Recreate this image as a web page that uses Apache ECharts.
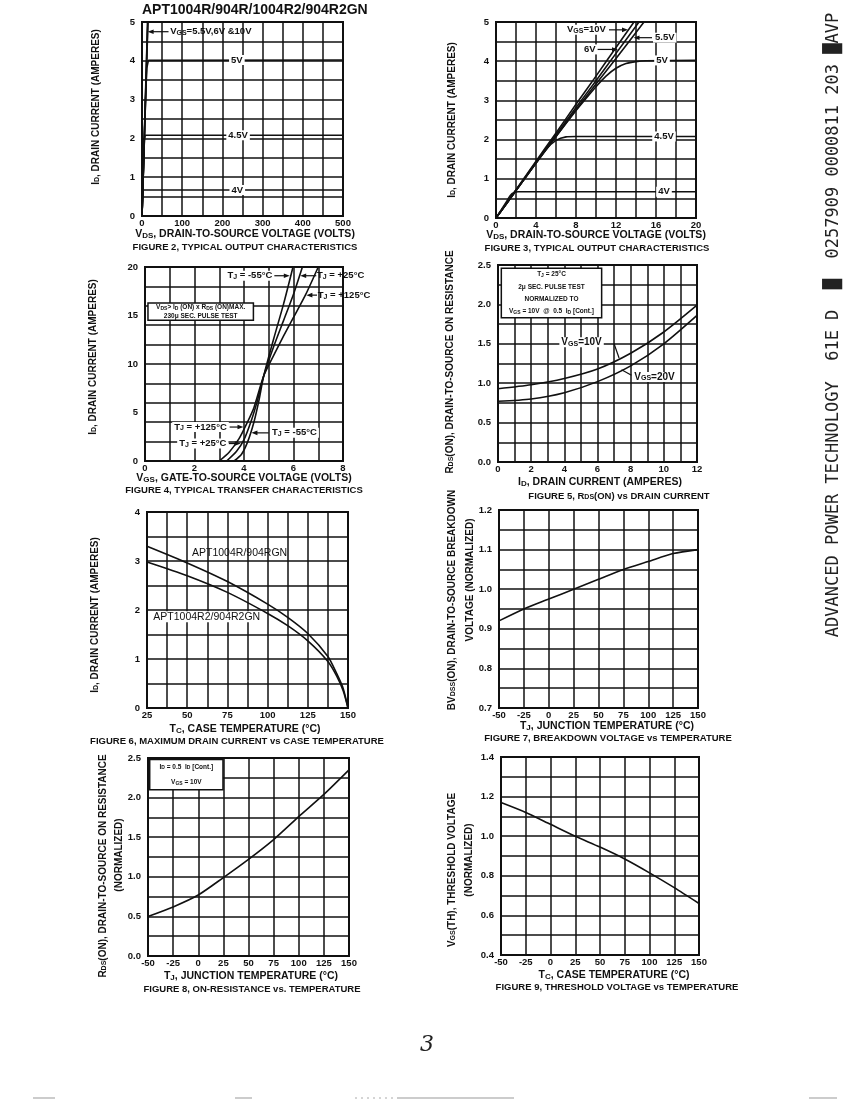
<!DOCTYPE html>
<html>
<head>
<meta charset="utf-8">
<script src="https://cdn.jsdelivr.net/npm/echarts@6/dist/echarts.min.js"></script>
<style>
html, body { margin: 0; padding: 0; background: #fff; }
#chart { width: 853px; height: 1108px; }
</style>
</head>
<body>
<div id="chart"></div>
<script>
// figure 2, output characteristics (0-500 V)
var f2Vgs10 = [[0, 0], [13.8, 5]];
var f2Vgs6 = [[0, 0], [14.3, 5]];
var f2Vgs55 = [[0, 0], [14.8, 5]];
var f2Vgs5 = [[0, 0], [9, 3.05], [12, 3.82], [16, 4.01], [500, 4.02]];
var f2Vgs45 = [[0, 0], [6, 1.98], [8, 2.08], [500, 2.08]];
var f2Vgs4 = [[0, 0], [2.2, 0.67], [500, 0.67]];

// figure 3, output characteristics (0-20 V)
var f3Vgs10 = [[0, 0], [2, 0.72], [4, 1.45], [6, 2.17], [8, 2.9], [10, 3.62], [12, 4.35], [13.8, 5]];
var f3Vgs6 = [[0, 0], [2, 0.71], [4, 1.42], [6, 2.12], [8, 2.82], [10, 3.5], [12, 4.2], [14.3, 5]];
var f3Vgs55 = [[0, 0], [2, 0.7], [4, 1.4], [6, 2.08], [8, 2.76], [10, 3.42], [12, 4.07], [14.8, 5]];
var f3Vgs5 = [[0, 0], [2, 0.7], [4, 1.4], [6, 2.08], [8, 2.74], [9, 3.05], [10, 3.35], [11, 3.62], [12, 3.82], [13, 3.94], [14, 3.99], [15, 4.01], [20, 4.02]];
var f3Vgs45 = [[0, 0], [2, 0.7], [4, 1.4], [5, 1.75], [6, 1.98], [7, 2.07], [8, 2.08], [20, 2.08]];
var f3Vgs4 = [[0, 0], [1, 0.4], [1.6, 0.62], [2.2, 0.67], [20, 0.67]];

// figure 4, transfer characteristics
var f4Tm55 = [[3.6, 0], [3.9, 0.7], [4.15, 2.0], [4.4, 4.0], [4.6, 6.2], [4.8, 8.8], [5.2, 12.6], [5.6, 16.2], [5.98, 20]];
var f4T25 = [[3.3, 0], [3.7, 1.0], [4.0, 2.2], [4.3, 4.2], [4.55, 6.3], [4.8, 8.8], [5.2, 11.8], [5.6, 14.5], [6.0, 17.2], [6.36, 20]];
var f4T125 = [[3.0, 0], [3.4, 0.9], [3.8, 2.3], [4.1, 3.8], [4.4, 5.5], [4.8, 8.8], [5.2, 10.9], [5.6, 12.9], [6.0, 14.8], [6.5, 17.2], [7.0, 20]];

// figure 5, RDS(on) vs drain current
var f5Vgs10 = [[0, 0.93], [2, 0.98], [4, 1.06], [6, 1.18], [8, 1.38], [10, 1.65], [12, 1.99]];
var f5Vgs20 = [[0, 0.77], [2, 0.8], [4, 0.88], [6, 1.02], [8, 1.22], [10, 1.5], [12, 1.86]];

// figure 6, max drain current vs case temperature
var f6Apt1004R = [[25, 3.3], [50, 2.96], [75, 2.58], [100, 2.12], [112.5, 1.85], [125, 1.52], [137.5, 1.05], [143, 0.7], [147, 0.4], [150, 0]];
var f6Apt1004R2 = [[25, 2.98], [50, 2.7], [75, 2.36], [100, 1.93], [112.5, 1.68], [125, 1.37], [137.5, 0.95], [143, 0.65], [147, 0.35], [150, 0]];

// figure 7, 8, 9 vs temperature
var f7Bvdss = [[-50, 0.92], [-25, 0.95], [0, 0.975], [25, 1.0], [50, 1.025], [75, 1.05], [100, 1.07], [125, 1.09], [150, 1.1]];
var f8Rds = [[-50, 0.5], [-25, 0.62], [0, 0.77], [25, 0.99], [50, 1.22], [75, 1.47], [100, 1.76], [125, 2.04], [150, 2.35]];
var f9Vth = [[-50, 1.17], [-25, 1.12], [0, 1.06], [25, 1.0], [50, 0.945], [75, 0.885], [100, 0.815], [125, 0.74], [150, 0.66]];

// axes: [min, max, grid step, label step, decimals]
var figs = [
  {box: [142, 22, 201, 194], x: [0, 500, 50, 100, 0], y: [0, 5, 0.5, 1, 0]},
  {box: [496, 22, 200, 196], x: [0, 20, 2, 4, 0], y: [0, 5, 0.5, 1, 0]},
  {box: [145, 267, 198, 194], x: [0, 8, 1, 2, 0], y: [0, 20, 2, 0, 0], yLab: [0, 20, 5, 5, 0]},
  {box: [498, 265, 199, 197], x: [0, 12, 1, 2, 0], y: [0, 2.5, 0.25, 0.5, 1]},
  {box: [147, 512, 201, 196], x: [25, 150, 12.5, 25, 0], y: [0, 4, 0.5, 1, 0]},
  {box: [499, 510, 199, 198], x: [-50, 150, 25, 25, 0], y: [0.7, 1.2, 0.05, 0.1, 1]},
  {box: [148, 758, 201, 198], x: [-50, 150, 25, 25, 0], y: [0, 2.5, 0.25, 0.5, 1]},
  {box: [501, 757, 198, 198], x: [-50, 150, 25, 25, 0], y: [0.4, 1.4, 0.1, 0.2, 1]}
];

var ink = '#111';
var F = "'Liberation Sans Narrow', 'Liberation Sans', Arial, sans-serif";
var chart = echarts.init(document.getElementById('chart'));

function axis(dim, i, a, splits) {
  var min = a[0], lab = a[3], dec = a[4];
  return {
    type: 'value', gridIndex: i, min: min, max: a[1], interval: a[2],
    position: dim === 'x' ? 'bottom' : 'left',
    axisLine: {show: false}, axisTick: {show: false},
    splitLine: {show: splits, lineStyle: {color: ink, width: 1.5}},
    axisLabel: {
      color: ink, fontFamily: F, fontWeight: 'bold', fontSize: 9.5,
      margin: dim === 'x' ? 2 : 7, showMinLabel: true, showMaxLabel: true,
      formatter: function (v) {
        if (!lab) return '';
        var k = (v - min) / lab;
        return Math.abs(k - Math.round(k)) < 1e-6 ? v.toFixed(dec) : '';
      }
    }
  };
}

function line(i, data, smooth) {
  return {
    type: 'line', xAxisIndex: i, yAxisIndex: i, data: data,
    symbol: 'none', smooth: smooth === undefined ? 0.25 : smooth,
    lineStyle: {color: ink, width: 1.6}, silent: true, z: 5
  };
}

var option = {animation: false, backgroundColor: '#fff', grid: [], xAxis: [], yAxis: [], series: []};
figs.forEach(function (f, i) {
  option.grid.push({
    left: f.box[0], top: f.box[1], width: f.box[2], height: f.box[3],
    show: true, borderColor: ink, borderWidth: 2, backgroundColor: 'transparent', outerBoundsMode: 'none'
  });
  option.xAxis.push(axis('x', i, f.x, true));
  option.yAxis.push(axis('y', i, f.y, true));
});
// figure 4 labels its y axis every 5 A over a 2 A grid
option.yAxis.push(axis('y', 2, figs[2].yLab, false));

option.series = [
  line(0, f2Vgs10, false), line(0, f2Vgs6, false), line(0, f2Vgs55, false),
  line(0, f2Vgs5, false), line(0, f2Vgs45, false), line(0, f2Vgs4, false),
  line(1, f3Vgs10), line(1, f3Vgs6), line(1, f3Vgs55), line(1, f3Vgs5), line(1, f3Vgs45), line(1, f3Vgs4),
  line(2, f4Tm55), line(2, f4T25), line(2, f4T125),
  line(3, f5Vgs10), line(3, f5Vgs20),
  line(4, f6Apt1004R), line(4, f6Apt1004R2),
  line(5, f7Bvdss), line(6, f8Rds), line(7, f9Vth)
];
chart.setOption(option);

// annotations
var gfx = [];
function px(i, p) { return chart.convertToPixel({xAxisIndex: i, yAxisIndex: i}, p); }
function rich(s) {
  return s.split(/_\{([^}]*)\}/).map(function (p, k) {
    return p === '' ? '' : (k % 2 ? '{s|' + p + '}' : '{b|' + p + '}');
  }).join('');
}
function txt(x, y, s, o) {
  o = o || {};
  var fs = o.fs || 10, w = o.w || 'bold', fam = o.fam || F;
  gfx.push({
    type: 'text', x: x, y: y, rotation: o.rot || 0, z: 100, silent: true,
    style: {
      text: rich(s), fill: o.fill || ink,
      align: o.align || 'left', verticalAlign: 'middle',
      textAlign: o.align || 'left', textVerticalAlign: 'middle',
      backgroundColor: o.bg || 'transparent', padding: o.bg ? [0, 2] : 0,
      rich: {
        b: {fontSize: fs, fontWeight: w, fontFamily: fam, fill: o.fill || ink},
        s: {fontSize: Math.round(fs * 0.72), fontWeight: w, fontFamily: fam, fill: o.fill || ink, verticalAlign: 'bottom', lineHeight: fs * 0.45}
      }
    }
  });
}
function dtxt(i, p, s, o) { var q = px(i, p); txt(q[0], q[1], s, o); }
function arrow(i, a, b, head) {
  var p = px(i, a), q = px(i, b);
  var dx = q[0] - p[0], dy = q[1] - p[1], L = Math.sqrt(dx * dx + dy * dy), ux = dx / L, uy = dy / L;
  var h = head === false ? 0 : 6, w = 2.3;
  gfx.push({type: 'line', z: 99, silent: true, shape: {x1: p[0], y1: p[1], x2: q[0] - ux * h * 0.7, y2: q[1] - uy * h * 0.7}, style: {stroke: ink, lineWidth: 1.2}});
  if (h) {
    gfx.push({type: 'polygon', z: 99, silent: true, shape: {points: [[q[0], q[1]], [q[0] - ux * h - uy * w, q[1] - uy * h + ux * w], [q[0] - ux * h + uy * w, q[1] - uy * h - ux * w]]}, style: {fill: ink}});
  }
}
function box(i, a, b, lines, fs) {
  var p = px(i, a), q = px(i, b);
  gfx.push({type: 'rect', z: 95, silent: true, shape: {x: p[0], y: p[1], width: q[0] - p[0], height: q[1] - p[1]}, style: {fill: '#fff', stroke: ink, lineWidth: 1.5}});
  var cx = (p[0] + q[0]) / 2, h = (q[1] - p[1]) / lines.length;
  lines.forEach(function (s, k) { txt(cx, p[1] + h * (k + 0.5), s, {fs: fs, align: 'center'}); });
}

// figure 2
txt(142, 10, 'APT1004R/904R/1004R2/904R2GN', {fs: 14});
dtxt(0, [70, 4.75], 'V_{GS}=5.5V,6V &10V', {fs: 9.5});
arrow(0, [66, 4.75], [14, 4.75]);
dtxt(0, [236, 4.02], '5V', {fs: 9.5, align: 'center', bg: '#fff'});
dtxt(0, [239, 2.08], '4.5V', {fs: 9.5, align: 'center', bg: '#fff'});
dtxt(0, [237, 0.67], '4V', {fs: 9.5, align: 'center', bg: '#fff'});

// figure 3
dtxt(1, [6.9, 4.8], 'V_{GS}=10V', {fs: 9.5, bg: '#fff'});
arrow(1, [11.3, 4.8], [13.2, 4.8]);
dtxt(1, [8.6, 4.3], '6V', {fs: 9.5, bg: '#fff'});
arrow(1, [10.0, 4.3], [12.2, 4.3]);
dtxt(1, [15.7, 4.6], '5.5V', {fs: 9.5, bg: '#fff'});
arrow(1, [15.6, 4.6], [13.75, 4.6]);
dtxt(1, [16.6, 4.02], '5V', {fs: 9.5, align: 'center', bg: '#fff'});
dtxt(1, [16.8, 2.08], '4.5V', {fs: 9.5, align: 'center', bg: '#fff'});
dtxt(1, [16.8, 0.67], '4V', {fs: 9.5, align: 'center', bg: '#fff'});

// figure 4
dtxt(2, [3.25, 19.1], 'T_{J} = -55°C', {fs: 9.5, bg: '#fff'});
arrow(2, [5.15, 19.1], [5.85, 19.1]);
dtxt(2, [6.95, 19.1], 'T_{J} = +25°C', {fs: 9.5});
arrow(2, [6.92, 19.1], [6.27, 19.1]);
dtxt(2, [6.98, 17.1], 'T_{J} = +125°C', {fs: 9.5});
arrow(2, [6.95, 17.1], [6.52, 17.1]);
dtxt(2, [1.1, 3.5], 'T_{J} = +125°C', {fs: 9.5, bg: '#fff'});
arrow(2, [3.42, 3.5], [3.98, 3.5]);
dtxt(2, [5.05, 2.9], 'T_{J} = -55°C', {fs: 9.5, bg: '#fff'});
arrow(2, [5.0, 2.9], [4.3, 2.9]);
dtxt(2, [1.3, 1.8], 'T_{J} = +25°C', {fs: 9.5, bg: '#fff'});
arrow(2, [3.38, 1.8], [3.87, 1.8]);
box(2, [0.12, 16.3], [4.38, 14.5], ['V_{DS}> I_{D} (ON) x R_{DS} (ON)MAX.', '230μ SEC. PULSE TEST'], 6.5);

// figure 5
box(3, [0.2, 2.46], [6.25, 1.83], ['T_{J} = 25°C', '2μ SEC. PULSE TEST', 'NORMALIZED TO', 'V_{GS} = 10V  @  0.5  I_{D} [Cont.]'], 6.5);
dtxt(3, [3.7, 1.52], 'V_{GS}=10V', {fs: 10, bg: '#fff'});
arrow(3, [7.0, 1.5], [7.3, 1.32], false);
dtxt(3, [8.1, 1.08], 'V_{GS}=20V', {fs: 10, bg: '#fff'});
arrow(3, [8.05, 1.1], [7.45, 1.17], false);

// figure 6
dtxt(4, [53, 3.17], 'APT1004R/904RGN', {fs: 10.5, w: 'normal', fam: "'Liberation Sans', Arial, sans-serif"});
dtxt(4, [27.7, 1.86], 'APT1004R2/904R2GN', {fs: 10.5, w: 'normal', fam: "'Liberation Sans', Arial, sans-serif", bg: '#fff'});

// figure 8
box(6, [-48.3, 2.48], [24.6, 2.1], ['I_{D} = 0.5  I_{D} [Cont.]', 'V_{GS} = 10V'], 6.5);

// axis titles (rotated)
var R = Math.PI / 2;
txt(96, 107, 'I_{D}, DRAIN CURRENT (AMPERES)', {rot: R, align: 'center'});
txt(452, 120, 'I_{D}, DRAIN CURRENT (AMPERES)', {rot: R, align: 'center'});
txt(93, 357, 'I_{D}, DRAIN CURRENT (AMPERES)', {rot: R, align: 'center'});
txt(450, 362, 'R_{DS}(ON), DRAIN-TO-SOURCE ON RESISTANCE', {rot: R, align: 'center'});
txt(95, 615, 'I_{D}, DRAIN CURRENT (AMPERES)', {rot: R, align: 'center'});
txt(452, 600, 'BV_{DSS}(ON), DRAIN-TO-SOURCE BREAKDOWN', {rot: R, align: 'center'});
txt(470, 580, 'VOLTAGE (NORMALIZED)', {rot: R, align: 'center'});
txt(103, 866, 'R_{DS}(ON), DRAIN-TO-SOURCE ON RESISTANCE', {rot: R, align: 'center'});
txt(119, 855, '(NORMALIZED)', {rot: R, align: 'center'});
txt(452, 870, 'V_{GS}(TH), THRESHOLD VOLTAGE', {rot: R, align: 'center'});
txt(469, 860, '(NORMALIZED)', {rot: R, align: 'center'});

// x titles and captions
var xt = [
  [245, 234, 'V_{DS}, DRAIN-TO-SOURCE VOLTAGE (VOLTS)'],
  [596, 235, 'V_{DS}, DRAIN-TO-SOURCE VOLTAGE (VOLTS)'],
  [244, 478, 'V_{GS}, GATE-TO-SOURCE VOLTAGE (VOLTS)'],
  [600, 482, 'I_{D}, DRAIN CURRENT (AMPERES)'],
  [245, 729, 'T_{C}, CASE TEMPERATURE (°C)'],
  [607, 726, 'T_{J}, JUNCTION TEMPERATURE (°C)'],
  [251, 976, 'T_{J}, JUNCTION TEMPERATURE (°C)'],
  [614, 975, 'T_{C}, CASE TEMPERATURE (°C)']
];
var caps = [
  [245, 247, 'FIGURE 2, TYPICAL OUTPUT CHARACTERISTICS'],
  [597, 248, 'FIGURE 3, TYPICAL OUTPUT CHARACTERISTICS'],
  [244, 490, 'FIGURE 4, TYPICAL TRANSFER CHARACTERISTICS'],
  [619, 496, 'FIGURE 5, R_{DS}(ON) vs DRAIN CURRENT'],
  [237, 741, 'FIGURE 6, MAXIMUM DRAIN CURRENT vs CASE TEMPERATURE'],
  [608, 738, 'FIGURE 7, BREAKDOWN VOLTAGE vs TEMPERATURE'],
  [252, 989, 'FIGURE 8, ON-RESISTANCE vs. TEMPERATURE'],
  [617, 987, 'FIGURE 9, THRESHOLD VOLTAGE vs TEMPERATURE']
];
xt.forEach(function (t) { txt(t[0], t[1], t[2], {align: 'center', fs: 10.5}); });
caps.forEach(function (t) { txt(t[0], t[1], t[2], {align: 'center', fs: 9.5}); });

// margin text, page number, scan edge
gfx.push({
  type: 'text', x: 834, y: 325, rotation: R, silent: true,
  style: {
    text: 'ADVANCED POWER TECHNOLOGY  61E D  \u2588  0257909 0000811 203 \u2588AVP',
    fill: '#222', fontFamily: "'DejaVu Sans Mono', monospace", fontSize: 17,
    align: 'center', verticalAlign: 'middle', textAlign: 'center', textVerticalAlign: 'middle'
  }
});
gfx.push({
  type: 'text', x: 427, y: 1045, silent: true,
  style: {text: '3', fill: '#222', fontFamily: "'DejaVu Serif', serif", fontStyle: 'italic', fontWeight: 'lighter', fontSize: 22, align: 'center', verticalAlign: 'middle', textAlign: 'center', textVerticalAlign: 'middle'}
});
[[33, 55], [235, 252], [397, 514], [809, 837]].forEach(function (d) {
  gfx.push({type: 'line', silent: true, shape: {x1: d[0], y1: 1098, x2: d[1], y2: 1098}, style: {stroke: '#999', lineWidth: 1}});
});
gfx.push({type: 'line', silent: true, shape: {x1: 355, y1: 1098, x2: 397, y2: 1098}, style: {stroke: '#aaa', lineWidth: 1, lineDash: [2, 4]}});

chart.setOption({graphic: gfx});
</script>
</body>
</html>
